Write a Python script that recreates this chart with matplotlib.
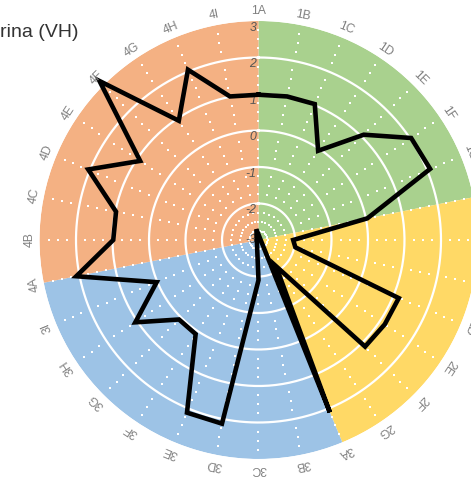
import numpy as np
import matplotlib
matplotlib.use("Agg")
import matplotlib.pyplot as plt

plt.rcParams['font.family'] = ['Liberation Sans', 'DejaVu Sans']

# ---- data ----
categories = ['1A', '1B', '1C', '1D', '1E', '1F', '1G',
              '2A', '2B', '2C', '2D', '2E', '2F', '2G',
              '3A', '3B', '3C', '3D', '3E', '3F', '3G', '3H', '3I',
              '4A', '4B', '4C', '4D', '4E', '4F', '4G', '4H', '4I']
values = [0.98, 1.01, 1.03, -0.06, 1.08, 2.03, 2.09,
          0.04, -2.05, -1.97, 1.16, 1.16, 1.13, -2.14,
          2.11, -3.30, -1.90, 2.13, 2.12, 0.10, 0.08, 1.06, 0.02,
          2.09, 0.98, 0.98, 2.05, 0.90, 3.16, 0.93, 2.05, 1.01]
group_sizes = [7, 7, 9, 9]
group_colors = ['#A9D18E', '#FFD966', '#9DC3E6', '#F4B183']
ring_values = [-2, -1, 0, 1, 2]
tick_labels = ['3', '2', '1', '0', '-1', '-2', '-3']
tick_values = [3, 2, 1, 0, -1, -2, -3]
r_min, r_max = -3, 3
title_text = 'rina (VH)'

# ---- figure ----
fig = plt.figure(figsize=(4.71, 4.82), dpi=100)
ax = fig.add_axes([0.08386, 0.04772, 0.92994, 0.90871], projection='polar')
ax.set_theta_zero_location('N')
ax.set_theta_direction(-1)
ax.grid(False)
ax.spines['polar'].set_visible(False)
ax.set_facecolor('none')

n = len(categories)
step = 2 * np.pi / n
thetas = np.arange(n) * step

# group wedges
start = 0
for size, col in zip(group_sizes, group_colors):
    ax.bar(thetas[start], r_max - r_min, width=size * step, bottom=r_min,
           align='edge', color=col, linewidth=0, zorder=1)
    start += size

# solid rings
tt = np.linspace(0, 2 * np.pi, 400)
for rv in ring_values:
    ax.plot(tt, np.full_like(tt, rv), color='white', lw=1.6, zorder=2)

# dotted spokes (quarter-unit dots)
qs = np.arange(r_min + 0.25, r_max, 0.25)
qs = qs[np.abs(qs - np.round(qs)) > 1e-6]
T, R = np.meshgrid(thetas, qs)
ax.scatter(T.ravel(), R.ravel(), s=4.6, marker='s', color='white',
           linewidths=0, zorder=3)

# radial tick labels
for lab, v in zip(tick_labels, tick_values):
    rpos = max(v - 0.18, r_min)
    ax.annotate(lab, xy=(0, rpos), xytext=(-1.5, 0), textcoords='offset points',
                ha='right', va='center', fontsize=8.8, style='italic',
                color='#555555', zorder=4)

# data line (values below r_min are drawn through the centre)
vals = np.array(values)
th = thetas.copy()
rr = vals.copy()
neg = vals < r_min
th[neg] = th[neg] + np.pi
rr[neg] = 2 * r_min - vals[neg]
th = np.append(th, th[0] + 2 * np.pi)
rr = np.append(rr, rr[0])
ax.plot(th, rr, color='black', lw=3.3, solid_joinstyle='miter',
        zorder=5, clip_on=False)

# category labels
for t, lab in zip(thetas, categories):
    deg = np.degrees(t)
    ax.text(t, 3.27, lab, rotation=-deg, rotation_mode='anchor',
            ha='center', va='center', fontsize=8.8, color='#808080',
            clip_on=False, zorder=6)

ax.set_xticks([])
ax.set_yticks([])
ax.set_ylim(r_min, r_max)

fig.text(0.0, 0.924, title_text, ha='left', va='baseline', fontsize=14,
         color='#333333')

fig.savefig('out.png', dpi=100)
